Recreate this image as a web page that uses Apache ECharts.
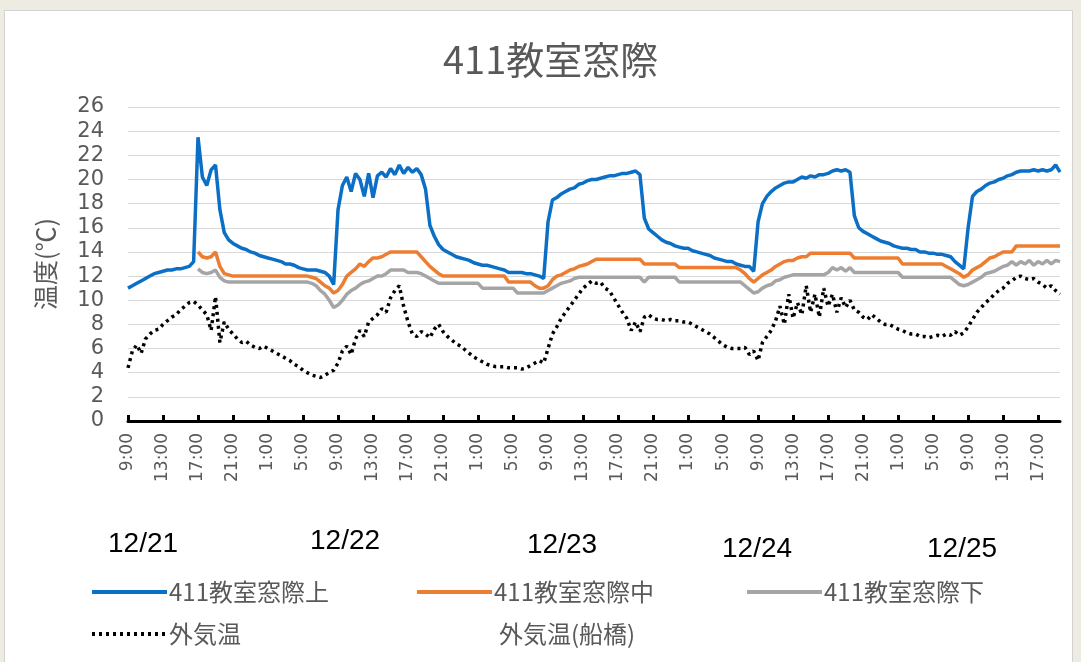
<!DOCTYPE html>
<html>
<head>
<meta charset="utf-8">
<script src="https://cdn.jsdelivr.net/npm/echarts@6/dist/echarts.min.js"></script>
<style>
  html, body { margin: 0; padding: 0; background: #eeebe3; width: 1081px; height: 662px; overflow: hidden; }
  #panel { position: absolute; left: 4px; top: 10px; width: 1067px; height: 670px; background: #ffffff; border: 1px solid #d2d2d2; }
  #chart { position: absolute; left: 0; top: 0; width: 1081px; height: 662px; }
</style>
</head>
<body>
<div id="panel"></div>
<div id="chart"></div>
<script>
// time axis: 30-minute steps starting 12/21 9:00
const startHour = 9;
const stepMinutes = 30;
const dayLabels = ['12/21', '12/22', '12/23', '12/24', '12/25'];

const upper = [
  11.0, 11.2, 11.4, 11.6, 11.8, 12.0, 12.2, 12.3,
  12.4, 12.5, 12.5, 12.6, 12.6, 12.7, 12.8, 13.2,
  23.5, 20.2, 19.5, 20.8, 21.2, 17.5, 15.6, 15.0,
  14.7, 14.5, 14.3, 14.2, 14.0, 13.9, 13.7, 13.6,
  13.5, 13.4, 13.3, 13.2, 13.0, 13.0, 12.9, 12.7,
  12.6, 12.5, 12.5, 12.5, 12.4, 12.3, 12.0, 11.3,
  17.5, 19.5, 20.2, 19.0, 20.5, 20.0, 18.6, 20.5,
  18.5, 20.3, 20.6, 20.2, 20.9, 20.4, 21.2, 20.5,
  21.0, 20.6, 20.9, 20.4, 19.2, 16.2, 15.3, 14.6,
  14.2, 14.0, 13.8, 13.6, 13.5, 13.4, 13.3, 13.1,
  13.0, 12.9, 12.9, 12.8, 12.7, 12.6, 12.5, 12.3,
  12.3, 12.3, 12.3, 12.2, 12.2, 12.1, 12.0, 11.8,
  16.5, 18.3, 18.5, 18.8, 19.0, 19.2, 19.3, 19.6,
  19.7, 19.9, 20.0, 20.0, 20.1, 20.2, 20.3, 20.3,
  20.4, 20.5, 20.5, 20.6, 20.7, 20.4, 16.8, 15.9,
  15.6, 15.3, 15.0, 14.8, 14.7, 14.5, 14.4, 14.3,
  14.3, 14.1, 14.0, 13.9, 13.8, 13.7, 13.5, 13.4,
  13.3, 13.2, 13.2, 13.0, 12.9, 12.8, 12.8, 12.4,
  16.5, 18.0, 18.6, 19.0, 19.3, 19.5, 19.7, 19.8,
  19.8, 20.0, 20.2, 20.1, 20.3, 20.2, 20.4, 20.4,
  20.5, 20.7, 20.8, 20.7, 20.8, 20.6, 17.0, 16.0,
  15.7, 15.5, 15.3, 15.1, 14.9, 14.8, 14.7, 14.5,
  14.4, 14.3, 14.3, 14.2, 14.2, 14.0, 14.0, 13.9,
  13.9, 13.8, 13.8, 13.7, 13.6, 13.2, 12.9, 12.6,
  16.0, 18.6, 19.0, 19.2, 19.5, 19.7, 19.8, 20.0,
  20.1, 20.3, 20.4, 20.6, 20.7, 20.7, 20.7, 20.8,
  20.7, 20.8, 20.7, 20.8, 21.2, 20.6
];

const middle = [
  null, null, null, null, null, null, null, null,
  null, null, null, null, null, null, null, null,
  14.0, 13.6, 13.5, 13.6, 14.0, 12.8, 12.2, 12.1,
  12.0, 12.0, 12.0, 12.0, 12.0, 12.0, 12.0, 12.0,
  12.0, 12.0, 12.0, 12.0, 12.0, 12.0, 12.0, 12.0,
  12.0, 12.0, 11.9, 11.8, 11.5, 11.2, 11.0, 10.6,
  10.8, 11.3, 12.0, 12.3, 12.6, 13.0, 12.8, 13.2,
  13.5, 13.5, 13.6, 13.8, 14.0, 14.0, 14.0, 14.0,
  14.0, 14.0, 14.0, 13.6, 13.2, 12.8, 12.5, 12.2,
  12.0, 12.0, 12.0, 12.0, 12.0, 12.0, 12.0, 12.0,
  12.0, 12.0, 12.0, 12.0, 12.0, 12.0, 12.0, 11.5,
  11.5, 11.5, 11.5, 11.5, 11.5, 11.2, 11.0, 11.0,
  11.2, 11.7, 12.0, 12.1, 12.3, 12.5, 12.6, 12.8,
  12.9, 13.0, 13.2, 13.4, 13.4, 13.4, 13.4, 13.4,
  13.4, 13.4, 13.4, 13.4, 13.4, 13.4, 13.0, 13.0,
  13.0, 13.0, 13.0, 13.0, 13.0, 13.0, 12.7, 12.7,
  12.7, 12.7, 12.7, 12.7, 12.7, 12.7, 12.7, 12.7,
  12.7, 12.7, 12.7, 12.7, 12.5, 12.2, 11.8, 11.5,
  11.8, 12.1, 12.3, 12.5, 12.8, 13.0, 13.2, 13.3,
  13.3, 13.5, 13.6, 13.6, 13.9, 13.9, 13.9, 13.9,
  13.9, 13.9, 13.9, 13.9, 13.9, 13.9, 13.5, 13.5,
  13.5, 13.5, 13.5, 13.5, 13.5, 13.5, 13.5, 13.5,
  13.5, 13.0, 13.0, 13.0, 13.0, 13.0, 13.0, 13.0,
  13.0, 13.0, 13.0, 12.8, 12.6, 12.4, 12.2, 11.9,
  12.1, 12.5, 12.7, 12.9, 13.2, 13.5, 13.6, 13.8,
  14.0, 14.0, 14.0, 14.5, 14.5, 14.5, 14.5, 14.5,
  14.5, 14.5, 14.5, 14.5, 14.5, 14.5
];

const lower = [
  null, null, null, null, null, null, null, null,
  null, null, null, null, null, null, null, null,
  12.6, 12.3, 12.2, 12.3, 12.5, 11.9, 11.6, 11.5,
  11.5, 11.5, 11.5, 11.5, 11.5, 11.5, 11.5, 11.5,
  11.5, 11.5, 11.5, 11.5, 11.5, 11.5, 11.5, 11.5,
  11.5, 11.5, 11.4, 11.2, 10.8, 10.5, 10.0, 9.4,
  9.6, 10.0, 10.5, 10.8, 11.0, 11.3, 11.5, 11.6,
  11.8, 12.0, 12.0, 12.2, 12.5, 12.5, 12.5, 12.5,
  12.3, 12.3, 12.3, 12.2, 12.0, 11.8, 11.6, 11.4,
  11.4, 11.4, 11.4, 11.4, 11.4, 11.4, 11.4, 11.4,
  11.4, 11.0, 11.0, 11.0, 11.0, 11.0, 11.0, 11.0,
  11.0, 10.6, 10.6, 10.6, 10.6, 10.6, 10.6, 10.6,
  10.8, 11.0, 11.2, 11.4, 11.5, 11.6, 11.8, 11.9,
  11.9, 11.9, 11.9, 11.9, 11.9, 11.9, 11.9, 11.9,
  11.9, 11.9, 11.9, 11.9, 11.9, 11.9, 11.5, 11.9,
  11.9, 11.9, 11.9, 11.9, 11.9, 11.9, 11.5, 11.5,
  11.5, 11.5, 11.5, 11.5, 11.5, 11.5, 11.5, 11.5,
  11.5, 11.5, 11.5, 11.5, 11.5, 11.2, 10.9, 10.6,
  10.7, 11.0, 11.2, 11.3, 11.6, 11.7, 11.9, 12.0,
  12.1, 12.1, 12.1, 12.1, 12.1, 12.1, 12.1, 12.1,
  12.3, 12.7, 12.5, 12.7, 12.4, 12.7, 12.3, 12.3,
  12.3, 12.3, 12.3, 12.3, 12.3, 12.3, 12.3, 12.3,
  12.3, 11.9, 11.9, 11.9, 11.9, 11.9, 11.9, 11.9,
  11.9, 11.9, 11.9, 11.9, 11.9, 11.6, 11.3, 11.2,
  11.3, 11.5, 11.7, 11.9, 12.2, 12.3, 12.4, 12.6,
  12.8, 12.9, 13.2, 12.9, 13.2, 13.0, 13.3, 12.9,
  13.2, 13.0, 13.3, 13.0, 13.3, 13.2
];

const outside = [
  4.4, 5.8, 6.3, 5.6, 6.8, 7.2, 7.5, 7.6,
  8.0, 8.3, 8.6, 8.8, 9.2, 9.5, 9.8, 9.9,
  9.6, 9.2, 8.8, 7.5, 10.3, 6.5, 8.2, 7.6,
  7.2, 6.8, 6.5, 6.6, 6.3, 6.1, 6.0, 6.2,
  6.0, 5.8, 5.6, 5.4, 5.2, 5.0, 4.7, 4.5,
  4.2, 4.0, 3.8, 3.7, 3.6, 3.8, 4.0, 4.2,
  4.8, 5.8, 6.2, 5.5, 6.8, 7.5, 7.0, 8.2,
  8.5, 8.8, 9.3, 9.0, 10.2, 10.8, 11.2, 9.5,
  8.2, 7.2, 7.0, 7.4, 7.2, 6.9, 7.6, 8.0,
  7.4, 7.0, 6.7, 6.4, 6.2, 5.9, 5.6, 5.3,
  5.1, 4.9, 4.7, 4.6, 4.5, 4.5, 4.5, 4.4,
  4.4, 4.4, 4.3, 4.4, 4.6, 4.8, 5.0, 4.8,
  6.0, 7.2, 7.8, 8.5, 9.0, 9.5, 10.0, 10.5,
  11.0, 11.3, 11.6, 11.4, 11.5, 11.0, 10.8, 10.2,
  9.6, 9.0, 8.5, 7.5, 8.2, 7.4, 8.6, 8.8,
  8.5, 8.4, 8.4, 8.3, 8.4, 8.3, 8.3, 8.2,
  8.2, 8.0, 7.8, 7.6, 7.4, 7.2, 6.9, 6.6,
  6.3, 6.1, 6.0, 6.0, 6.0, 6.1, 5.5, 5.8,
  5.0, 6.5, 7.0, 7.5, 8.3, 9.5, 8.0, 10.5,
  8.5, 9.8, 8.8, 11.2, 9.0, 10.5, 8.6, 11.0,
  9.5, 10.5, 9.0, 10.2, 9.4, 10.0, 9.2, 9.0,
  8.6, 8.4, 8.8, 8.5, 8.2, 8.0, 8.0, 7.8,
  7.6, 7.5, 7.3, 7.2, 7.2, 7.0, 7.0, 6.9,
  7.0, 7.1, 7.0, 7.2, 7.1, 7.4, 7.1, 7.3,
  7.8, 8.4, 9.0, 9.4, 9.8, 10.1, 10.5, 10.8,
  11.0, 11.4, 11.6, 11.9, 12.0, 11.8, 11.7, 11.8,
  11.5, 11.3, 11.0, 11.2, 10.8, 10.5
];

const funabashi = [];

const seriesNames = ['411教室窓際上', '411教室窓際中', '411教室窓際下', '外気温', '外気温(船橋)'];

// category labels (time of day)
const categories = upper.map(function (_, i) {
  const mins = startHour * 60 + i * stepMinutes;
  const h = Math.floor(mins / 60) % 24;
  const m = mins % 60;
  return h + ':' + (m === 0 ? '00' : String(m));
});

const txt = '#595959';
const chart = echarts.init(document.getElementById('chart'), null, { renderer: 'canvas' });

function legendAt(name, left, top) {
  return {
    data: [name], left: left, top: top, orient: 'horizontal',
    itemWidth: 75, itemHeight: 14, itemGap: 0, padding: 0,
    itemStyle: { opacity: 0 },
    lineStyle: { width: 4 },
    textStyle: { color: txt, fontSize: 24, fontFamily: 'Noto Sans CJK JP', padding: [0, 0, 0, -3] },
    selectedMode: false
  };
}

chart.setOption({
  animation: false,
  backgroundColor: 'transparent',
  title: {
    text: '411教室窓際', left: 438, top: 36,
    textStyle: { color: txt, fontSize: 38, fontWeight: 'normal', fontFamily: 'Noto Sans CJK JP' }
  },
  grid: { left: 128, right: 21, top: 107, bottom: 241, containLabel: false },
  legend: [
    legendAt(seriesNames[0], 90, 580),
    legendAt(seriesNames[1], 415, 580),
    legendAt(seriesNames[2], 745, 580),
    legendAt(seriesNames[3], 90, 622),
    legendAt(seriesNames[4], 420, 622)
  ],
  xAxis: {
    type: 'category', data: categories, boundaryGap: false,
    axisLine: { show: true, onZero: false, lineStyle: { color: '#000', width: 3 } },
    axisTick: { show: true, interval: 7, inside: true, length: 6, lineStyle: { color: '#000', width: 3 } },
    axisLabel: { interval: 7, rotate: 90, margin: 12, color: txt, fontSize: 17, fontFamily: 'DejaVu Sans' },
    splitLine: { show: false }
  },
  yAxis: {
    type: 'value', min: 0, max: 26, interval: 2,
    name: '温度(℃)', nameLocation: 'middle', nameRotate: 90, nameGap: 70,
    nameTextStyle: { color: txt, fontSize: 25, fontFamily: 'Noto Sans CJK JP' },
    axisLine: { show: false }, axisTick: { show: false },
    axisLabel: { color: txt, fontSize: 21, margin: 24, fontFamily: 'DejaVu Sans' },
    splitLine: { lineStyle: { color: '#d9d9d9', width: 1 } }
  },
  graphic: dayLabels.map(function (d, k) {
    const pos = [[108, 530], [310, 527], [527, 531], [722, 535], [927, 535]][k];
    return {
      type: 'text', left: pos[0], top: pos[1], silent: true,
      style: { text: d, fill: '#000', fontSize: 28, fontFamily: 'Liberation Sans' }
    };
  }),
  series: [
    { name: seriesNames[0], type: 'line', data: upper, showSymbol: false, symbol: 'none',
      lineStyle: { color: '#0B6FC6', width: 3.5 }, itemStyle: { color: '#0B6FC6' } },
    { name: seriesNames[1], type: 'line', data: middle, showSymbol: false, symbol: 'none',
      lineStyle: { color: '#ED7D31', width: 3.5 }, itemStyle: { color: '#ED7D31' } },
    { name: seriesNames[2], type: 'line', data: lower, showSymbol: false, symbol: 'none',
      lineStyle: { color: '#A5A5A5', width: 3.5 }, itemStyle: { color: '#A5A5A5' } },
    { name: seriesNames[3], type: 'line', data: outside, showSymbol: false, symbol: 'none',
      lineStyle: { color: '#000000', width: 3.5, type: [3, 4], cap: 'butt' }, itemStyle: { color: '#000' } },
    { name: seriesNames[4], type: 'line', data: funabashi, showSymbol: false, symbol: 'none',
      lineStyle: { color: '#ffffff', width: 0, opacity: 0 }, itemStyle: { color: '#ffffff', opacity: 0 } }
  ]
});
</script>
</body>
</html>
